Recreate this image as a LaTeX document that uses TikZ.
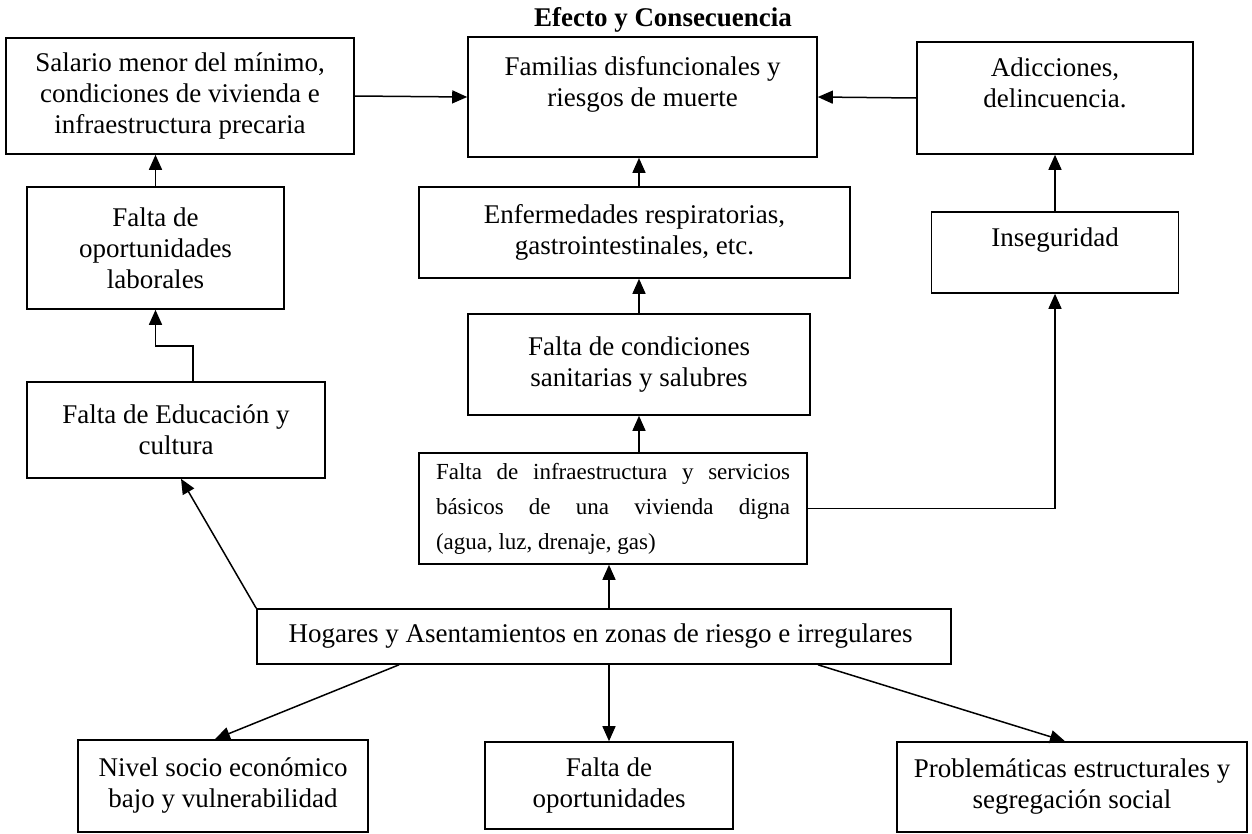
\documentclass[tikz,border=0pt]{standalone}
\usepackage{fontspec}
\setmainfont{Liberation Serif}
\usetikzlibrary{arrows.meta}
\begin{document}
\begin{tikzpicture}[x=1pt,y=-1pt]
    \newcommand{\bodyfont}[0]{\fontsize{27}{31}\selectfont}
    \newcommand{\smallfont}[0]{\fontsize{23}{35}\selectfont}

    \tikzstyle{dedge} = [line width=1.5pt,->,>={Triangle[length=15pt,width=13pt]},draw=black]

    \tikzstyle{box}=[
      rectangle,
      draw=black,
      anchor=center,
      line width=1.6pt,
      align=center,
      font=\bodyfont,
      inner sep=0pt,
    ]

    \useasboundingbox (0,0) rectangle (1252,833);

    \node[font=\bfseries\fontsize{27}{30}\selectfont] (title) at (663,20) {Efecto y Consecuencia};

    % top row
    \node[box,minimum width=348pt,minimum height=116pt] (n1) at (180,96) {
      Salario menor del mínimo,\\
      condiciones de vivienda e\\
      infraestructura precaria
    };

    \node[box,minimum width=349pt,minimum height=120pt] (n2) at (642.5,97) {
      Familias disfuncionales y\\
      riesgos de muerte\\
      ~
    };

    \node[box,minimum width=276pt,minimum height=112pt] (n3) at (1055,98) {
      Adicciones,\\
      delincuencia.\\
      ~
    };

    % second row
    \node[box,minimum width=257pt,minimum height=122pt] (n4) at (155.5,248) {
      Falta de\\
      oportunidades\\
      laborales
    };

    \node[box,minimum width=431pt,minimum height=91pt] (n5) at (634.5,232.5) {
      Enfermedades respiratorias,\\
      gastrointestinales, etc.
    };

    \node[box,minimum width=247pt,minimum height=81pt] (n6) at (1055,252.5) {
      Inseguridad\\
      ~
    };

    % middle
    \node[box,minimum width=298pt,minimum height=96pt] (n7) at (176,430) {
      Falta de Educación y\\
      cultura
    };

    \node[box,minimum width=342pt,minimum height=101pt] (n8) at (639,364.5) {
      Falta de condiciones\\
      sanitarias y salubres
    };

    \node[box,minimum width=388pt,minimum height=111pt,font=\smallfont,
          align=justify,text width=354pt] (n9) at (613,508.5) {
      Falta de infraestructura y servicios\linebreak
      básicos de una vivienda digna\linebreak
      (agua, luz, drenaje, gas)
    };

    \node[box,minimum width=694pt,minimum height=55pt] (n10) at (604,636.5) {
      Hogares y Asentamientos en zonas de riesgo e irregulares
    };

    % bottom row
    \node[box,minimum width=290pt,minimum height=92pt] (n11) at (223,786) {
      Nivel socio económico\\
      bajo y vulnerabilidad
    };

    \node[box,minimum width=248pt,minimum height=87pt] (n12) at (609,785.5) {
      Falta de\\
      oportunidades
    };

    \node[box,minimum width=350pt,minimum height=90pt] (n13) at (1072,787) {
      Problemáticas estructurales y\\
      segregación social
    };

    \draw[dedge] (n1.east)--(n2.west);
    \draw[dedge] (n3.west)--(n2.east);
    \draw[dedge] (n4.north)--(n4.north |- n1.south);
    \draw[dedge] ([xshift=17pt]n7.north) |- ([yshift=-36pt]n4.south)--(n4.south);
    \draw[dedge] (n5.north -| n8.north)--(n8.north |- n2.south);
    \draw[dedge] (n8.north)--(n8.north |- n5.south);
    \draw[dedge] (n9.north -| n8.north)--(n8.south);
    \draw[dedge] (n9.east) -| (n6.south);
    \draw[dedge] (n6.north)--(n3.south);
    \draw[dedge] (n10.north -| n12.north)--(n9.south -| n12.north);
    \draw[dedge] (n10.north west)--([xshift=5pt]n7.south);
    \draw[dedge] ([xshift=-205pt]n10.south)--([xshift=-8pt]n11.north);
    \draw[dedge] (n10.south -| n12.north)--(n12.north);
    \draw[dedge] ([xshift=214pt]n10.south)--([xshift=-7pt]n13.north);
  \end{tikzpicture}
\end{document}
